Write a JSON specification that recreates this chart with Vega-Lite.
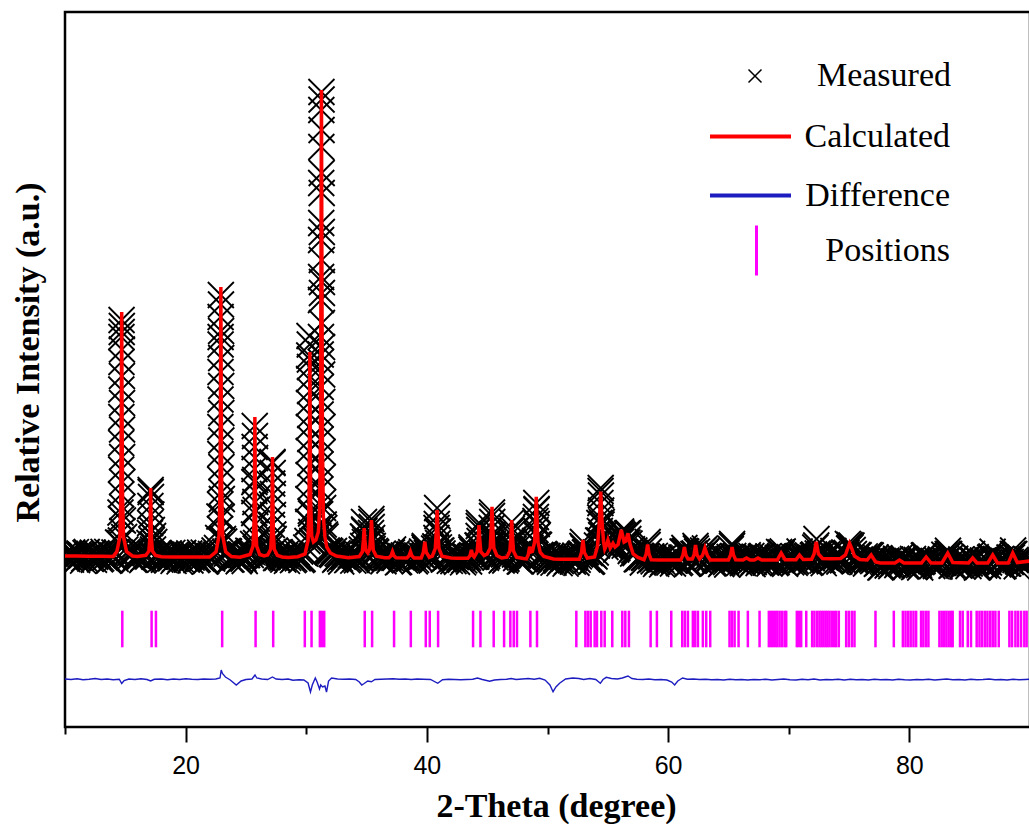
{
"$schema": "https://vega.github.io/schema/vega-lite/v6.json",
"width": 965, "height": 715,
"autosize": {"type": "none"},
"padding": {"left": 65, "top": 12, "right": 0, "bottom": 97},
"background": "white",
"config": {"view": {"stroke": "black", "strokeWidth": 2.5}},
"datasets": {
"obs": [
{"x":10.0,"y":60},{"x":10.2,"y":-40},{"x":10.4,"y":40},{"x":10.6,"y":90},{"x":10.8,"y":-10},{"x":11.0,"y":-60},{"x":11.2,"y":70},{"x":11.4,"y":30},{"x":11.6,"y":-30},{"x":11.8,"y":100},
{"x":12.0,"y":0},{"x":12.2,"y":50},{"x":12.4,"y":-55},{"x":12.6,"y":75},{"x":12.8,"y":14},{"x":13.0,"y":-26},{"x":13.2,"y":104},{"x":13.4,"y":3},{"x":13.6,"y":-77},{"x":13.8,"y":52},
{"x":14.0,"y":32},{"x":14.2,"y":-38},{"x":14.4,"y":290},{"x":14.6,"y":890},{"x":14.8,"y":730},{"x":15.0,"y":150},{"x":15.2,"y":110},{"x":15.4,"y":10},{"x":15.6,"y":100},{"x":15.8,"y":-50},
{"x":16.0,"y":38},{"x":16.2,"y":2},{"x":16.4,"y":-60},{"x":16.6,"y":88},{"x":16.8,"y":20},{"x":17.0,"y":280},{"x":17.2,"y":340},{"x":17.4,"y":10},{"x":17.6,"y":30},{"x":17.8,"y":50},
{"x":18.0,"y":45},{"x":18.2,"y":-55},{"x":18.4,"y":24},{"x":18.6,"y":74},{"x":18.8,"y":-27},{"x":19.0,"y":-78},{"x":19.2,"y":52},{"x":19.4,"y":11},{"x":19.6,"y":-49},{"x":19.8,"y":80},
{"x":20.0,"y":-20},{"x":20.2,"y":30},{"x":20.4,"y":-70},{"x":20.6,"y":59},{"x":20.8,"y":-1},{"x":21.0,"y":-41},{"x":21.2,"y":89},{"x":21.4,"y":-11},{"x":21.6,"y":-92},{"x":21.8,"y":38},
{"x":22.0,"y":18},{"x":22.2,"y":-30},{"x":22.4,"y":130},{"x":22.6,"y":180},{"x":22.8,"y":810},{"x":23.0,"y":1160},{"x":23.2,"y":310},{"x":23.4,"y":65},{"x":23.6,"y":110},{"x":23.8,"y":-50},
{"x":24.0,"y":30},{"x":24.2,"y":-14},{"x":24.4,"y":-85},{"x":24.6,"y":55},{"x":24.8,"y":-35},{"x":25.0,"y":40},{"x":25.2,"y":125},{"x":25.4,"y":40},{"x":25.6,"y":260},{"x":25.8,"y":940},
{"x":26.0,"y":170},{"x":26.2,"y":-15},{"x":26.4,"y":45},{"x":26.6,"y":95},{"x":26.8,"y":10},{"x":27.0,"y":50},{"x":27.2,"y":1900},{"x":27.4,"y":130},{"x":27.6,"y":-17},{"x":27.8,"y":95},
{"x":28.0,"y":-20},{"x":28.2,"y":25},{"x":28.4,"y":-78},{"x":28.6,"y":54},{"x":28.8,"y":-3},{"x":29.0,"y":-40},{"x":29.2,"y":93},{"x":29.4,"y":2},{"x":29.6,"y":-60},{"x":29.8,"y":90},
{"x":30.0,"y":190},{"x":30.2,"y":700},{"x":30.4,"y":870},{"x":30.6,"y":270},{"x":30.8,"y":350},{"x":31.0,"y":430},{"x":31.2,"y":4050},{"x":31.4,"y":980},{"x":31.6,"y":410},{"x":31.8,"y":100},
{"x":32.0,"y":110},{"x":32.2,"y":45},{"x":32.4,"y":-55},{"x":32.6,"y":75},{"x":32.8,"y":-35},{"x":33.0,"y":15},{"x":33.2,"y":80},{"x":33.4,"y":-62},{"x":33.6,"y":-12},{"x":33.8,"y":28},
{"x":34.0,"y":30},{"x":34.2,"y":-65},{"x":34.4,"y":29},{"x":34.6,"y":150},{"x":34.8,"y":550},{"x":35.0,"y":30},{"x":35.2,"y":170},{"x":35.4,"y":700},{"x":35.6,"y":60},{"x":35.8,"y":95},
{"x":36.0,"y":-25},{"x":36.2,"y":18},{"x":36.4,"y":-85},{"x":36.6,"y":44},{"x":36.8,"y":-17},{"x":37.0,"y":-20},{"x":37.2,"y":150},{"x":37.4,"y":-15},{"x":37.6,"y":-107},{"x":37.8,"y":23},
{"x":38.0,"y":2},{"x":38.2,"y":-68},{"x":38.4,"y":65},{"x":38.6,"y":50},{"x":38.8,"y":20},{"x":39.0,"y":-88},{"x":39.2,"y":32},{"x":39.4,"y":-39},{"x":39.6,"y":110},{"x":39.8,"y":190},
{"x":40.0,"y":80},{"x":40.2,"y":-15},{"x":40.4,"y":-70},{"x":40.6,"y":170},{"x":40.8,"y":580},{"x":41.0,"y":191},{"x":41.2,"y":130},{"x":41.4,"y":-50},{"x":41.6,"y":-15},{"x":41.8,"y":21},
{"x":42.0,"y":20},{"x":42.2,"y":-82},{"x":42.4,"y":-4},{"x":42.6,"y":45},{"x":42.8,"y":-56},{"x":43.0,"y":-106},{"x":43.2,"y":23},{"x":43.4,"y":-17},{"x":43.6,"y":0},{"x":43.8,"y":110},
{"x":44.0,"y":10},{"x":44.2,"y":230},{"x":44.4,"y":180},{"x":44.6,"y":130},{"x":44.8,"y":35},{"x":45.0,"y":20},{"x":45.2,"y":240},{"x":45.4,"y":890},{"x":45.6,"y":60},{"x":45.8,"y":70},
{"x":46.0,"y":10},{"x":46.2,"y":-70},{"x":46.4,"y":50},{"x":46.6,"y":-35},{"x":46.8,"y":90},{"x":47.0,"y":520},{"x":47.2,"y":160},{"x":47.4,"y":-20},{"x":47.6,"y":60},{"x":47.8,"y":-88},
{"x":48.0,"y":0},{"x":48.2,"y":-46},{"x":48.4,"y":-40},{"x":48.6,"y":180},{"x":48.8,"y":120},{"x":49.0,"y":720},{"x":49.2,"y":440},{"x":49.4,"y":40},{"x":49.6,"y":30},{"x":49.8,"y":40},
{"x":50.0,"y":20},{"x":50.2,"y":-95},{"x":50.4,"y":-21},{"x":50.6,"y":29},{"x":50.8,"y":-72},{"x":51.0,"y":-123},{"x":51.2,"y":7},{"x":51.4,"y":-33},{"x":51.6,"y":-94},{"x":51.8,"y":36},
{"x":52.0,"y":-64},{"x":52.2,"y":-15},{"x":52.4,"y":-115},{"x":52.6,"y":14},{"x":52.8,"y":70},{"x":53.0,"y":175},{"x":53.2,"y":100},{"x":53.4,"y":-25},{"x":53.6,"y":-98},{"x":53.8,"y":38},
{"x":54.0,"y":90},{"x":54.2,"y":330},{"x":54.4,"y":1320},{"x":54.6,"y":420},{"x":54.8,"y":200},{"x":55.0,"y":260},{"x":55.2,"y":230},{"x":55.4,"y":240},{"x":55.6,"y":280},{"x":55.8,"y":180},
{"x":56.0,"y":440},{"x":56.2,"y":450},{"x":56.4,"y":227},{"x":56.6,"y":470},{"x":56.8,"y":270},{"x":57.0,"y":155},{"x":57.2,"y":130},{"x":57.4,"y":-45},{"x":57.6,"y":-20},{"x":57.8,"y":0},
{"x":58.0,"y":-15},{"x":58.2,"y":20},{"x":58.4,"y":110},{"x":58.6,"y":14},{"x":58.8,"y":-87},{"x":59.0,"y":-137},{"x":59.2,"y":-8},{"x":59.4,"y":-48},{"x":59.6,"y":-109},{"x":59.8,"y":21},
{"x":60.0,"y":-80},{"x":60.2,"y":-30},{"x":60.4,"y":-130},{"x":60.6,"y":0},{"x":60.8,"y":-61},{"x":61.0,"y":-101},{"x":61.2,"y":110},{"x":61.4,"y":120},{"x":61.6,"y":-135},{"x":61.8,"y":0},
{"x":62.0,"y":-20},{"x":62.2,"y":70},{"x":62.4,"y":110},{"x":62.6,"y":-70},{"x":62.8,"y":20},{"x":63.0,"y":70},{"x":63.2,"y":120},{"x":63.4,"y":-50},{"x":63.6,"y":20},{"x":63.8,"y":-120},
{"x":64.0,"y":-30},{"x":64.2,"y":-70},{"x":64.4,"y":-140},{"x":64.6,"y":0},{"x":64.8,"y":-100},{"x":65.0,"y":-40},{"x":65.2,"y":160},{"x":65.4,"y":20},{"x":65.6,"y":-55},{"x":65.8,"y":-18},
{"x":66.0,"y":-20},{"x":66.2,"y":-120},{"x":66.4,"y":-15},{"x":66.6,"y":35},{"x":66.8,"y":-90},{"x":67.0,"y":-140},{"x":67.2,"y":0},{"x":67.4,"y":-15},{"x":67.6,"y":-90},{"x":67.8,"y":20},
{"x":68.0,"y":-80},{"x":68.2,"y":-30},{"x":68.4,"y":-130},{"x":68.6,"y":0},{"x":68.8,"y":-60},{"x":69.0,"y":-100},{"x":69.2,"y":100},{"x":69.4,"y":60},{"x":69.6,"y":-110},{"x":69.8,"y":-15},
{"x":70.0,"y":-35},{"x":70.2,"y":-105},{"x":70.4,"y":15},{"x":70.6,"y":-85},{"x":70.8,"y":20},{"x":71.0,"y":-60},{"x":71.2,"y":0},{"x":71.4,"y":-68},{"x":71.6,"y":33},{"x":71.8,"y":-106},
{"x":72.0,"y":30},{"x":72.2,"y":190},{"x":72.4,"y":70},{"x":72.6,"y":70},{"x":72.8,"y":-70},{"x":73.0,"y":-12},{"x":73.2,"y":57},{"x":73.4,"y":-85},{"x":73.6,"y":-34},{"x":73.8,"y":7},
{"x":74.0,"y":8},{"x":74.2,"y":-90},{"x":74.4,"y":10},{"x":74.6,"y":90},{"x":74.8,"y":80},{"x":75.0,"y":170},{"x":75.2,"y":230},{"x":75.4,"y":60},{"x":75.6,"y":-60},{"x":75.8,"y":35},
{"x":76.0,"y":-72},{"x":76.2,"y":-26},{"x":76.4,"y":-130},{"x":76.6,"y":30},{"x":76.8,"y":30},{"x":77.0,"y":-80},{"x":77.2,"y":-10},{"x":77.4,"y":-120},{"x":77.6,"y":-210},{"x":77.8,"y":-80},
{"x":78.0,"y":-100},{"x":78.2,"y":-170},{"x":78.4,"y":-50},{"x":78.6,"y":-150},{"x":78.8,"y":-110},{"x":79.0,"y":-160},{"x":79.2,"y":-10},{"x":79.4,"y":-115},{"x":79.6,"y":-40},{"x":79.8,"y":-180},
{"x":80.0,"y":-90},{"x":80.2,"y":-130},{"x":80.4,"y":-200},{"x":80.6,"y":-60},{"x":80.8,"y":-160},{"x":81.0,"y":-100},{"x":81.2,"y":30},{"x":81.4,"y":-50},{"x":81.6,"y":-60},{"x":81.8,"y":-80},
{"x":82.0,"y":-80},{"x":82.2,"y":-180},{"x":82.4,"y":-100},{"x":82.6,"y":-50},{"x":82.8,"y":-110},{"x":83.0,"y":-80},{"x":83.2,"y":125},{"x":83.4,"y":-10},{"x":83.6,"y":-160},{"x":83.8,"y":-35},
{"x":84.0,"y":-138},{"x":84.2,"y":-90},{"x":84.4,"y":-190},{"x":84.6,"y":-60},{"x":84.8,"y":-120},{"x":85.0,"y":-130},{"x":85.2,"y":60},{"x":85.4,"y":-85},{"x":85.6,"y":-210},{"x":85.8,"y":-80},
{"x":86.0,"y":-100},{"x":86.2,"y":-170},{"x":86.4,"y":-50},{"x":86.6,"y":-110},{"x":86.8,"y":10},{"x":87.0,"y":-70},{"x":87.2,"y":-40},{"x":87.4,"y":-140},{"x":87.6,"y":-40},{"x":87.8,"y":-180},
{"x":88.0,"y":-90},{"x":88.2,"y":-130},{"x":88.4,"y":-100},{"x":88.6,"y":130},{"x":88.8,"y":-60},{"x":89.0,"y":-85},{"x":89.2,"y":-10},{"x":89.4,"y":-148},{"x":89.6,"y":-95},{"x":89.8,"y":-52},{"x":90.0,"y":-40},
{"x":10.1,"y":0},{"x":10.3,"y":69},{"x":10.5,"y":-51},{"x":10.7,"y":29},{"x":10.9,"y":98},{"x":11.1,"y":-22},{"x":11.3,"y":47},{"x":11.5,"y":-73},{"x":11.7,"y":77},{"x":11.9,"y":16},
{"x":12.1,"y":-34},{"x":12.3,"y":85},{"x":12.5,"y":5},{"x":12.7,"y":55},{"x":12.9,"y":-46},{"x":13.1,"y":34},{"x":13.3,"y":-17},{"x":13.5,"y":103},{"x":13.7,"y":-67},{"x":13.9,"y":22},
{"x":14.1,"y":90},{"x":14.3,"y":88},{"x":14.5,"y":280},{"x":14.7,"y":4500},{"x":14.9,"y":400},{"x":15.1,"y":68},{"x":15.3,"y":60},{"x":15.5,"y":90},{"x":15.7,"y":-55},{"x":15.9,"y":30},
{"x":16.1,"y":2},{"x":16.3,"y":96},{"x":16.5,"y":-25},{"x":16.7,"y":73},{"x":16.9,"y":10},{"x":17.1,"y":1300},{"x":17.3,"y":150},{"x":17.5,"y":3},{"x":17.7,"y":70},{"x":17.9,"y":-52},
{"x":18.1,"y":-15},{"x":18.3,"y":54},{"x":18.5,"y":-66},{"x":18.7,"y":13},{"x":18.9,"y":83},{"x":19.1,"y":-38},{"x":19.3,"y":31},{"x":19.5,"y":-89},{"x":19.7,"y":61},{"x":19.9,"y":0},
{"x":20.1,"y":-50},{"x":20.3,"y":70},{"x":20.5,"y":-11},{"x":20.7,"y":39},{"x":20.9,"y":-61},{"x":21.1,"y":19},{"x":21.3,"y":-31},{"x":21.5,"y":88},{"x":21.7,"y":-82},{"x":21.9,"y":8},
{"x":22.1,"y":60},{"x":22.3,"y":20},{"x":22.5,"y":40},{"x":22.7,"y":380},{"x":22.9,"y":4400},{"x":23.1,"y":360},{"x":23.3,"y":110},{"x":23.5,"y":120},{"x":23.7,"y":-50},{"x":23.9,"y":28},
{"x":24.1,"y":-5},{"x":24.3,"y":80},{"x":24.5,"y":-55},{"x":24.7,"y":40},{"x":24.9,"y":-80},{"x":25.1,"y":40},{"x":25.3,"y":105},{"x":25.5,"y":100},{"x":25.7,"y":1500},{"x":25.9,"y":140},
{"x":26.1,"y":40},{"x":26.3,"y":80},{"x":26.5,"y":-50},{"x":26.7,"y":40},{"x":26.9,"y":160},{"x":27.1,"y":290},{"x":27.3,"y":360},{"x":27.5,"y":-20},{"x":27.7,"y":85},{"x":27.9,"y":5},
{"x":28.1,"y":-52},{"x":28.3,"y":64},{"x":28.5,"y":-18},{"x":28.7,"y":35},{"x":28.9,"y":-62},{"x":29.1,"y":22},{"x":29.3,"y":-25},{"x":29.5,"y":110},{"x":29.7,"y":-40},{"x":29.9,"y":70},
{"x":30.1,"y":320},{"x":30.3,"y":3950},{"x":30.5,"y":320},{"x":30.7,"y":350},{"x":30.9,"y":490},{"x":31.1,"y":860},{"x":31.3,"y":5500},{"x":31.5,"y":580},{"x":31.7,"y":130},{"x":31.9,"y":130},
{"x":32.1,"y":60},{"x":32.3,"y":120},{"x":32.5,"y":-30},{"x":32.7,"y":50},{"x":32.9,"y":-90},{"x":33.1,"y":5},{"x":33.3,"y":50},{"x":33.5,"y":-43},{"x":33.7,"y":38},{"x":33.9,"y":-71},
{"x":34.1,"y":-28},{"x":34.3,"y":48},{"x":34.5,"y":-25},{"x":34.7,"y":410},{"x":34.9,"y":350},{"x":35.1,"y":40},{"x":35.3,"y":320},{"x":35.5,"y":160},{"x":35.7,"y":120},{"x":35.9,"y":10},
{"x":36.1,"y":-58},{"x":36.3,"y":57},{"x":36.5,"y":-26},{"x":36.7,"y":23},{"x":36.9,"y":-70},{"x":37.1,"y":90},{"x":37.3,"y":-15},{"x":37.5,"y":73},{"x":37.7,"y":-97},{"x":37.9,"y":-8},
{"x":38.1,"y":32},{"x":38.3,"y":-38},{"x":38.5,"y":-40},{"x":38.7,"y":95},{"x":38.9,"y":60},{"x":39.1,"y":-58},{"x":39.3,"y":-19},{"x":39.5,"y":41},{"x":39.7,"y":15},{"x":39.9,"y":170},
{"x":40.1,"y":20},{"x":40.3,"y":80},{"x":40.5,"y":0},{"x":40.7,"y":211},{"x":40.9,"y":510},{"x":41.1,"y":120},{"x":41.3,"y":70},{"x":41.5,"y":-35},{"x":41.7,"y":35},{"x":41.9,"y":-79},
{"x":42.1,"y":-41},{"x":42.3,"y":27},{"x":42.5,"y":-95},{"x":42.7,"y":-15},{"x":42.9,"y":54},{"x":43.1,"y":-66},{"x":43.3,"y":3},{"x":43.5,"y":-90},{"x":43.7,"y":190},{"x":43.9,"y":5},
{"x":44.1,"y":10},{"x":44.3,"y":620},{"x":44.5,"y":80},{"x":44.7,"y":75},{"x":44.9,"y":-15},{"x":45.1,"y":120},{"x":45.3,"y":420},{"x":45.5,"y":410},{"x":45.7,"y":-10},{"x":45.9,"y":25},
{"x":46.1,"y":35},{"x":46.3,"y":-40},{"x":46.5,"y":-70},{"x":46.7,"y":40},{"x":46.9,"y":220},{"x":47.1,"y":310},{"x":47.3,"y":50},{"x":47.5,"y":55},{"x":47.7,"y":-90},{"x":47.9,"y":-8},
{"x":48.1,"y":-43},{"x":48.3,"y":70},{"x":48.5,"y":130},{"x":48.7,"y":145},{"x":48.9,"y":160},{"x":49.1,"y":960},{"x":49.3,"y":240},{"x":49.5,"y":30},{"x":49.7,"y":60},{"x":49.9,"y":-65},
{"x":50.1,"y":-40},{"x":50.3,"y":15},{"x":50.5,"y":-111},{"x":50.7,"y":-31},{"x":50.9,"y":38},{"x":51.1,"y":-83},{"x":51.3,"y":-13},{"x":51.5,"y":-133},{"x":51.7,"y":16},{"x":51.9,"y":-44},
{"x":52.1,"y":-94},{"x":52.3,"y":25},{"x":52.5,"y":-55},{"x":52.7,"y":50},{"x":52.9,"y":220},{"x":53.1,"y":90},{"x":53.3,"y":-50},{"x":53.5,"y":78},{"x":53.7,"y":-85},{"x":53.9,"y":10},
{"x":54.1,"y":230},{"x":54.3,"y":680},{"x":54.5,"y":700},{"x":54.7,"y":250},{"x":54.9,"y":310},{"x":55.1,"y":220},{"x":55.3,"y":220},{"x":55.5,"y":300},{"x":55.7,"y":150},{"x":55.9,"y":320},
{"x":56.1,"y":510},{"x":56.3,"y":430},{"x":56.5,"y":270},{"x":56.7,"y":480},{"x":56.9,"y":120},{"x":57.1,"y":70},{"x":57.3,"y":80},{"x":57.5,"y":-40},{"x":57.7,"y":20},{"x":57.9,"y":-110},
{"x":58.1,"y":-10},{"x":58.3,"y":300},{"x":58.5,"y":-70},{"x":58.7,"y":-46},{"x":58.9,"y":23},{"x":59.1,"y":-97},{"x":59.3,"y":-28},{"x":59.5,"y":-148},{"x":59.7,"y":1},{"x":59.9,"y":-60},
{"x":60.1,"y":-110},{"x":60.3,"y":10},{"x":60.5,"y":-70},{"x":60.7,"y":-20},{"x":60.9,"y":-121},{"x":61.1,"y":-10},{"x":61.3,"y":100},{"x":61.5,"y":110},{"x":61.7,"y":-120},{"x":61.9,"y":-30},
{"x":62.1,"y":60},{"x":62.3,"y":170},{"x":62.5,"y":-60},{"x":62.7,"y":20},{"x":62.9,"y":130},{"x":63.1,"y":100},{"x":63.3,"y":10},{"x":63.5,"y":0},{"x":63.7,"y":-130},{"x":63.9,"y":-40},
{"x":64.1,"y":-70},{"x":64.3,"y":20},{"x":64.5,"y":-110},{"x":64.7,"y":-20},{"x":64.9,"y":-150},{"x":65.1,"y":0},{"x":65.3,"y":260},{"x":65.5,"y":-40},{"x":65.7,"y":-7},{"x":65.9,"y":-118},
{"x":66.1,"y":-80},{"x":66.3,"y":5},{"x":66.5,"y":-90},{"x":66.7,"y":-35},{"x":66.9,"y":20},{"x":67.1,"y":-100},{"x":67.3,"y":-10},{"x":67.5,"y":-120},{"x":67.7,"y":5},{"x":67.9,"y":-60},
{"x":68.1,"y":-110},{"x":68.3,"y":10},{"x":68.5,"y":-70},{"x":68.7,"y":-20},{"x":68.9,"y":-120},{"x":69.1,"y":-20},{"x":69.3,"y":20},{"x":69.5,"y":110},{"x":69.7,"y":-135},{"x":69.9,"y":-45},
{"x":70.1,"y":-5},{"x":70.3,"y":-75},{"x":70.5,"y":-115},{"x":70.7,"y":10},{"x":70.9,"y":110},{"x":71.1,"y":-60},{"x":71.3,"y":-50},{"x":71.5,"y":12},{"x":71.7,"y":-116},{"x":71.9,"y":-25},
{"x":72.1,"y":50},{"x":72.3,"y":360},{"x":72.5,"y":-10},{"x":72.7,"y":25},{"x":72.9,"y":-121},{"x":73.1,"y":-22},{"x":73.3,"y":26},{"x":73.5,"y":-65},{"x":73.7,"y":16},{"x":73.9,"y":-92},
{"x":74.1,"y":-51},{"x":74.3,"y":20},{"x":74.5,"y":-65},{"x":74.7,"y":50},{"x":74.9,"y":260},{"x":75.1,"y":200},{"x":75.3,"y":140},{"x":75.5,"y":-80},{"x":75.7,"y":40},{"x":75.9,"y":-50},
{"x":76.1,"y":-103},{"x":76.3,"y":13},{"x":76.5,"y":-70},{"x":76.7,"y":40},{"x":76.9,"y":-50},{"x":77.1,"y":-60},{"x":77.3,"y":-135},{"x":77.5,"y":-25},{"x":77.7,"y":-200},{"x":77.9,"y":-110},
{"x":78.1,"y":-70},{"x":78.3,"y":-140},{"x":78.5,"y":-180},{"x":78.7,"y":-90},{"x":78.9,"y":-35},{"x":79.1,"y":-115},{"x":79.3,"y":-80},{"x":79.5,"y":-50},{"x":79.7,"y":-190},{"x":79.9,"y":-100},
{"x":80.1,"y":-130},{"x":80.3,"y":-40},{"x":80.5,"y":-170},{"x":80.7,"y":-80},{"x":80.9,"y":-210},{"x":81.1,"y":-80},{"x":81.3,"y":35},{"x":81.5,"y":-60},{"x":81.7,"y":-45},{"x":81.9,"y":-180},
{"x":82.1,"y":-140},{"x":82.3,"y":-70},{"x":82.5,"y":-190},{"x":82.7,"y":-110},{"x":82.9,"y":45},{"x":83.1,"y":10},{"x":83.3,"y":60},{"x":83.5,"y":-175},{"x":83.7,"y":-52},{"x":83.9,"y":-115},
{"x":84.1,"y":-168},{"x":84.3,"y":-50},{"x":84.5,"y":-130},{"x":84.7,"y":-80},{"x":84.9,"y":-180},{"x":85.1,"y":-45},{"x":85.3,"y":-65},{"x":85.5,"y":-5},{"x":85.7,"y":-200},{"x":85.9,"y":-110},
{"x":86.1,"y":-70},{"x":86.3,"y":-140},{"x":86.5,"y":-180},{"x":86.7,"y":-10},{"x":86.9,"y":105},{"x":87.1,"y":-80},{"x":87.3,"y":-120},{"x":87.5,"y":-60},{"x":87.7,"y":-190},{"x":87.9,"y":-100},
{"x":88.1,"y":-130},{"x":88.3,"y":-10},{"x":88.5,"y":-10},{"x":88.7,"y":60},{"x":88.9,"y":-185},{"x":89.1,"y":-95},{"x":89.3,"y":-40},{"x":89.5,"y":-127},{"x":89.7,"y":-44},{"x":89.9,"y":-141},
{"x":14.69,"y":4740},{"x":14.71,"y":4620},{"x":14.68,"y":4400},{"x":14.72,"y":4150},{"x":14.68,"y":3900},{"x":14.72,"y":3620},{"x":14.67,"y":3350},{"x":14.73,"y":3080},{"x":14.67,"y":2800},{"x":14.73,"y":2550},{"x":14.66,"y":2280},{"x":14.74,"y":2000},{"x":14.66,"y":1750},{"x":14.74,"y":1500},{"x":14.65,"y":1250},{"x":14.75,"y":1000},{"x":14.64,"y":760},{"x":14.76,"y":520},{"x":14.63,"y":330},
{"x":17.1,"y":1340},{"x":17.13,"y":1200},{"x":17.08,"y":1020},{"x":17.16,"y":850},{"x":17.06,"y":680},{"x":17.2,"y":540},{"x":17.3,"y":420},{"x":17.04,"y":480},{"x":17.4,"y":300},{"x":17.25,"y":250},
{"x":22.92,"y":5240},{"x":22.93,"y":5050},{"x":22.9,"y":4800},{"x":22.94,"y":4520},{"x":22.9,"y":4250},{"x":22.95,"y":3980},{"x":22.89,"y":3700},{"x":22.95,"y":3420},{"x":22.89,"y":3150},{"x":22.96,"y":2880},{"x":22.88,"y":2600},{"x":22.96,"y":2330},{"x":22.88,"y":2060},{"x":22.97,"y":1800},{"x":22.87,"y":1550},{"x":22.98,"y":1300},{"x":22.86,"y":1050},{"x":22.99,"y":800},{"x":22.85,"y":560},{"x":23.01,"y":330},
{"x":25.73,"y":2620},{"x":25.75,"y":2420},{"x":25.72,"y":2200},{"x":25.76,"y":1980},{"x":25.71,"y":1760},{"x":25.77,"y":1540},{"x":25.7,"y":1320},{"x":25.78,"y":1100},{"x":25.69,"y":880},{"x":25.8,"y":660},{"x":25.66,"y":450},{"x":25.84,"y":280},
{"x":27.2,"y":1880},{"x":27.22,"y":1680},{"x":27.18,"y":1470},{"x":27.23,"y":1260},{"x":27.17,"y":1050},{"x":27.24,"y":840},{"x":27.15,"y":640},{"x":27.27,"y":450},{"x":27.12,"y":280},
{"x":30.27,"y":4420},{"x":30.29,"y":4250},{"x":30.25,"y":4030},{"x":30.31,"y":3800},{"x":30.24,"y":3560},{"x":30.32,"y":3320},{"x":30.23,"y":3080},{"x":30.33,"y":2840},{"x":30.22,"y":2600},{"x":30.34,"y":2360},{"x":30.21,"y":2120},{"x":30.35,"y":1880},{"x":30.2,"y":1640},{"x":30.36,"y":1400},{"x":30.18,"y":1160},{"x":30.38,"y":920},{"x":30.15,"y":700},{"x":30.42,"y":500},
{"x":31.26,"y":9300},{"x":31.27,"y":9150},{"x":31.25,"y":8940},{"x":31.27,"y":8540},{"x":31.25,"y":8200},{"x":31.28,"y":7680},{"x":31.24,"y":7480},{"x":31.28,"y":7280},{"x":31.24,"y":6680},{"x":31.29,"y":6500},{"x":31.23,"y":6340},{"x":31.29,"y":5940},{"x":31.23,"y":5600},{"x":31.3,"y":5280},{"x":31.22,"y":5140},{"x":31.3,"y":4680},{"x":31.22,"y":4400},{"x":31.31,"y":4200},{"x":31.21,"y":3900},{"x":31.32,"y":3650},{"x":31.2,"y":3400},{"x":31.33,"y":3100},{"x":31.19,"y":2850},{"x":31.34,"y":2600},{"x":31.18,"y":2350},{"x":31.35,"y":2100},{"x":31.17,"y":1850},{"x":31.37,"y":1600},{"x":31.15,"y":1350},{"x":31.4,"y":1100},{"x":31.12,"y":850},{"x":31.45,"y":650},{"x":31.05,"y":600},{"x":31.55,"y":450},
{"x":34.79,"y":700},{"x":34.82,"y":520},{"x":34.76,"y":400},{"x":34.86,"y":300},{"x":34.72,"y":220},
{"x":35.4,"y":760},{"x":35.43,"y":600},{"x":35.37,"y":480},{"x":35.46,"y":380},{"x":35.33,"y":300},{"x":35.52,"y":220},
{"x":39.83,"y":220},{"x":39.86,"y":150},
{"x":40.85,"y":980},{"x":40.87,"y":820},{"x":40.82,"y":660},{"x":40.89,"y":500},{"x":40.79,"y":380},{"x":40.93,"y":280},{"x":40.74,"y":200},
{"x":43.69,"y":150},
{"x":44.32,"y":680},{"x":44.34,"y":540},{"x":44.29,"y":420},{"x":44.37,"y":320},{"x":44.25,"y":230},
{"x":45.4,"y":820},{"x":45.42,"y":700},{"x":45.37,"y":580},{"x":45.44,"y":460},{"x":45.34,"y":360},{"x":45.48,"y":270},{"x":45.3,"y":200},
{"x":47.03,"y":700},{"x":47.05,"y":570},{"x":47.0,"y":450},{"x":47.08,"y":340},{"x":46.96,"y":250},
{"x":48.52,"y":200},
{"x":49.07,"y":1080},{"x":49.09,"y":940},{"x":49.04,"y":800},{"x":49.11,"y":660},{"x":49.01,"y":540},{"x":49.15,"y":420},{"x":48.97,"y":320},{"x":49.2,"y":250},
{"x":52.94,"y":300},{"x":52.97,"y":200},
{"x":54.41,"y":1380},{"x":54.43,"y":1230},{"x":54.39,"y":1080},{"x":54.45,"y":930},{"x":54.37,"y":790},{"x":54.48,"y":650},{"x":54.34,"y":520},{"x":54.52,"y":420},{"x":54.3,"y":330},{"x":54.58,"y":260},
{"x":55.01,"y":330},{"x":55.43,"y":280},
{"x":56.12,"y":480},{"x":56.16,"y":380},{"x":56.08,"y":300},
{"x":56.67,"y":470},{"x":56.7,"y":360},{"x":56.63,"y":290},
{"x":58.3,"y":240},{"x":61.35,"y":180},{"x":62.27,"y":220},{"x":63.05,"y":170},{"x":65.3,"y":220},{"x":69.37,"y":90},{"x":72.28,"y":230},{"x":73.7,"y":120},{"x":75.04,"y":240},{"x":75.1,"y":190},{"x":83.18,"y":60},{"x":88.57,"y":60}
],
"calc": [
{"x":10.0,"y":20},{"x":11.0,"y":18},{"x":12.0,"y":16},{"x":13.0,"y":14},{"x":14.0,"y":12},{"x":14.3,"y":108},{"x":14.55,"y":401},{"x":14.63,"y":1232},{"x":14.67,"y":2944},{"x":14.7,"y":4900},{"x":14.73,"y":2944},{"x":14.77,"y":1232},{"x":14.85,"y":401},{"x":15.1,"y":108},{"x":15.6,"y":20},
{"x":16.0,"y":8},{"x":16.7,"y":33},{"x":16.95,"y":116},{"x":17.03,"y":350},{"x":17.07,"y":830},{"x":17.1,"y":1380},{"x":17.13,"y":830},{"x":17.17,"y":350},{"x":17.25,"y":116},{"x":17.5,"y":33},{"x":18.0,"y":5},{"x":19.0,"y":2},{"x":20.0,"y":0},{"x":21.0,"y":-1},{"x":22.0,"y":-2},
{"x":22.52,"y":105},{"x":22.77,"y":430},{"x":22.85,"y":1348},{"x":22.89,"y":3239},{"x":22.92,"y":5400},{"x":22.95,"y":3239},{"x":22.99,"y":1348},{"x":23.07,"y":430},{"x":23.32,"y":105},{"x":23.8,"y":10},{"x":24.5,"y":-5},
{"x":25.34,"y":50},{"x":25.59,"y":218},{"x":25.67,"y":696},{"x":25.71,"y":1678},{"x":25.74,"y":2800},{"x":25.77,"y":1678},{"x":25.81,"y":696},{"x":25.89,"y":218},{"x":26.14,"y":50},{"x":26.5,"y":20},
{"x":26.8,"y":40},{"x":27.05,"y":154},{"x":27.13,"y":495},{"x":27.17,"y":1197},{"x":27.2,"y":2000},{"x":27.23,"y":1197},{"x":27.27,"y":495},{"x":27.35,"y":154},{"x":27.6,"y":33},{"x":28.0,"y":0},{"x":28.5,"y":-8},{"x":29.3,"y":5},
{"x":29.9,"y":60},{"x":30.15,"y":330},{"x":30.23,"y":1030},{"x":30.27,"y":2460},{"x":30.3,"y":4100},{"x":30.33,"y":2500},{"x":30.37,"y":1080},{"x":30.45,"y":420},{"x":30.6,"y":300},{"x":30.8,"y":340},{"x":31.0,"y":500},{"x":31.1,"y":900},
{"x":31.18,"y":2400},{"x":31.22,"y":5600},{"x":31.26,"y":9340},{"x":31.3,"y":5600},{"x":31.34,"y":2300},{"x":31.42,"y":800},{"x":31.55,"y":400},{"x":31.7,"y":200},{"x":32.0,"y":80},{"x":32.5,"y":20},{"x":33.5,"y":-13},
{"x":34.4,"y":9},{"x":34.65,"y":104},{"x":34.74,"y":342},{"x":34.8,"y":580},{"x":34.86,"y":342},{"x":34.95,"y":127},{"x":35.1,"y":80},{"x":35.26,"y":156},{"x":35.35,"y":440},{"x":35.41,"y":740},{"x":35.47,"y":440},{"x":35.56,"y":136},{"x":35.81,"y":15},
{"x":36.5,"y":-16},{"x":36.85,"y":-17},{"x":37.03,"y":26},{"x":37.15,"y":106},{"x":37.27,"y":26},{"x":37.45,"y":-17},{"x":38.34,"y":-18},{"x":38.52,"y":25},{"x":38.64,"y":106},{"x":38.76,"y":25},{"x":38.94,"y":-18},
{"x":39.53,"y":-19},{"x":39.71,"y":95},{"x":39.83,"y":306},{"x":39.95,"y":95},{"x":40.2,"y":-5},{"x":40.45,"y":17},{"x":40.7,"y":171},{"x":40.79,"y":556},{"x":40.85,"y":940},{"x":40.91,"y":556},{"x":41.0,"y":171},{"x":41.25,"y":17},
{"x":42.0,"y":-20},{"x":42.5,"y":-25},{"x":43.4,"y":-27},{"x":43.58,"y":30},{"x":43.69,"y":140},{"x":43.8,"y":30},{"x":43.92,"y":0},{"x":44.17,"y":105},{"x":44.26,"y":372},{"x":44.32,"y":640},{"x":44.38,"y":372},{"x":44.47,"y":105},
{"x":44.75,"y":30},{"x":45.0,"y":60},{"x":45.25,"y":180},{"x":45.34,"y":592},{"x":45.4,"y":1006},{"x":45.46,"y":592},{"x":45.55,"y":180},{"x":45.8,"y":30},{"x":46.2,"y":-20},
{"x":46.63,"y":-3},{"x":46.88,"y":121},{"x":46.97,"y":430},{"x":47.03,"y":740},{"x":47.09,"y":430},{"x":47.18,"y":121},{"x":47.43,"y":-3},{"x":48.0,"y":-30},{"x":48.25,"y":-37},{"x":48.4,"y":40},{"x":48.52,"y":206},{"x":48.62,"y":100},
{"x":48.75,"y":110},{"x":48.93,"y":300},{"x":49.0,"y":700},{"x":49.07,"y":1206},{"x":49.14,"y":700},{"x":49.21,"y":300},{"x":49.4,"y":90},{"x":49.7,"y":10},{"x":50.5,"y":-41},{"x":51.2,"y":-43},{"x":52.0,"y":-44},
{"x":52.64,"y":-46},{"x":52.82,"y":90},{"x":52.94,"y":340},{"x":53.06,"y":90},{"x":53.3,"y":-20},{"x":53.9,"y":0},{"x":54.15,"y":220},{"x":54.3,"y":700},{"x":54.41,"y":1306},{"x":54.52,"y":700},{"x":54.65,"y":300},
{"x":54.75,"y":160},{"x":54.88,"y":230},{"x":55.01,"y":340},{"x":55.2,"y":180},{"x":55.43,"y":274},{"x":55.6,"y":200},{"x":55.85,"y":250},{"x":56.12,"y":540},{"x":56.35,"y":300},{"x":56.5,"y":320},{"x":56.67,"y":474},{"x":56.85,"y":250},{"x":57.1,"y":60},{"x":57.5,"y":-10},
{"x":58.0,"y":-55},{"x":58.18,"y":60},{"x":58.3,"y":250},{"x":58.42,"y":60},{"x":58.6,"y":-56},{"x":59.3,"y":-58},{"x":60.0,"y":-60},{"x":60.6,"y":-60},{"x":61.05,"y":-62},{"x":61.23,"y":40},{"x":61.35,"y":200},{"x":61.47,"y":40},{"x":61.65,"y":-40},
{"x":62.0,"y":-40},{"x":62.15,"y":40},{"x":62.27,"y":240},{"x":62.4,"y":40},{"x":62.6,"y":-40},{"x":62.85,"y":30},{"x":63.05,"y":180},{"x":63.25,"y":30},{"x":63.5,"y":-60},{"x":64.3,"y":-60},
{"x":65.0,"y":-60},{"x":65.18,"y":40},{"x":65.3,"y":200},{"x":65.42,"y":40},{"x":65.6,"y":-55},{"x":66.2,"y":-60},{"x":66.5,"y":-20},{"x":66.8,"y":-60},{"x":67.15,"y":-60},{"x":67.45,"y":-20},{"x":67.75,"y":-60},{"x":68.5,"y":-60},
{"x":69.05,"y":-60},{"x":69.37,"y":80},{"x":69.7,"y":-55},{"x":70.6,"y":-55},{"x":70.89,"y":40},{"x":71.2,"y":-50},{"x":71.9,"y":-45},{"x":72.1,"y":60},{"x":72.28,"y":306},{"x":72.46,"y":60},{"x":72.8,"y":-30},{"x":73.5,"y":-35},
{"x":74.3,"y":-30},{"x":74.7,"y":40},{"x":74.9,"y":180},{"x":75.04,"y":274},{"x":75.2,"y":180},{"x":75.45,"y":20},{"x":75.9,"y":-50},{"x":76.5,"y":-60},{"x":76.83,"y":40},{"x":77.2,"y":-100},{"x":77.6,"y":-120},
{"x":78.8,"y":-120},{"x":79.18,"y":-60},{"x":79.55,"y":-120},{"x":81.0,"y":-120},{"x":81.39,"y":0},{"x":81.8,"y":-120},{"x":82.7,"y":-120},{"x":83.18,"y":80},{"x":83.6,"y":-110},{"x":84.9,"y":-120},{"x":85.25,"y":-20},{"x":85.6,"y":-120},
{"x":86.5,"y":-120},{"x":86.91,"y":40},{"x":87.3,"y":-120},{"x":88.2,"y":-120},{"x":88.57,"y":80},{"x":88.95,"y":-110},{"x":90.0,"y":-80}
],
"diff": [
{"x":10.0,"y":-2440},{"x":10.5,"y":-2450},{"x":11.0,"y":-2435},{"x":11.5,"y":-2455},{"x":12.0,"y":-2445},{"x":12.5,"y":-2430},{"x":13.0,"y":-2450},{"x":13.5,"y":-2440},{"x":14.0,"y":-2455},{"x":14.5,"y":-2445},{"x":14.7,"y":-2530},{"x":14.9,"y":-2470},
{"x":15.3,"y":-2440},{"x":15.8,"y":-2450},{"x":16.3,"y":-2435},{"x":16.8,"y":-2450},{"x":17.1,"y":-2480},{"x":17.4,"y":-2445},{"x":18.0,"y":-2440},{"x":18.5,"y":-2455},{"x":19.0,"y":-2440},{"x":19.5,"y":-2450},{"x":20.0,"y":-2435},{"x":20.5,"y":-2445},
{"x":21.0,"y":-2450},{"x":21.5,"y":-2440},{"x":22.0,"y":-2445},{"x":22.5,"y":-2440},{"x":22.85,"y":-2420},{"x":22.95,"y":-2260},{"x":23.05,"y":-2330},{"x":23.3,"y":-2400},{"x":23.7,"y":-2460},{"x":24.2,"y":-2560},{"x":24.6,"y":-2480},
{"x":25.0,"y":-2450},{"x":25.5,"y":-2440},{"x":25.75,"y":-2360},{"x":25.9,"y":-2420},{"x":26.3,"y":-2440},{"x":26.8,"y":-2450},{"x":27.2,"y":-2400},{"x":27.5,"y":-2440},{"x":28.0,"y":-2450},{"x":28.5,"y":-2440},{"x":28.9,"y":-2465},{"x":29.4,"y":-2455},
{"x":29.8,"y":-2460},{"x":30.15,"y":-2520},{"x":30.35,"y":-2700},{"x":30.5,"y":-2560},{"x":30.75,"y":-2420},{"x":30.9,"y":-2500},{"x":31.1,"y":-2640},{"x":31.2,"y":-2560},{"x":31.35,"y":-2600},{"x":31.55,"y":-2580},{"x":31.68,"y":-2700},{"x":31.85,"y":-2480},
{"x":32.1,"y":-2420},{"x":32.6,"y":-2440},{"x":33.1,"y":-2445},{"x":33.6,"y":-2440},{"x":34.1,"y":-2450},{"x":34.4,"y":-2500},{"x":34.6,"y":-2560},{"x":34.8,"y":-2530},{"x":35.1,"y":-2480},{"x":35.4,"y":-2495},{"x":35.7,"y":-2450},
{"x":36.2,"y":-2445},{"x":36.7,"y":-2440},{"x":37.2,"y":-2435},{"x":37.7,"y":-2445},{"x":38.2,"y":-2440},{"x":38.7,"y":-2450},{"x":39.2,"y":-2440},{"x":39.7,"y":-2445},{"x":40.3,"y":-2450},{"x":40.9,"y":-2525},{"x":41.3,"y":-2455},{"x":41.8,"y":-2445},
{"x":42.3,"y":-2450},{"x":42.8,"y":-2455},{"x":43.3,"y":-2450},{"x":43.8,"y":-2445},{"x":44.2,"y":-2420},{"x":44.6,"y":-2450},{"x":45.2,"y":-2485},{"x":45.6,"y":-2460},{"x":46.1,"y":-2450},{"x":46.6,"y":-2445},{"x":47.0,"y":-2430},{"x":47.4,"y":-2450},
{"x":47.9,"y":-2440},{"x":48.4,"y":-2430},{"x":48.9,"y":-2445},{"x":49.35,"y":-2426},{"x":49.8,"y":-2460},{"x":50.2,"y":-2560},{"x":50.46,"y":-2694},{"x":50.7,"y":-2600},{"x":51.0,"y":-2526},{"x":51.5,"y":-2440},{"x":52.1,"y":-2420},{"x":52.6,"y":-2430},
{"x":53.0,"y":-2450},{"x":53.5,"y":-2430},{"x":54.0,"y":-2450},{"x":54.38,"y":-2526},{"x":54.6,"y":-2450},{"x":54.87,"y":-2406},{"x":55.3,"y":-2430},{"x":55.8,"y":-2440},{"x":56.2,"y":-2420},{"x":56.67,"y":-2380},{"x":57.0,"y":-2430},{"x":57.4,"y":-2446},
{"x":57.9,"y":-2450},{"x":58.4,"y":-2440},{"x":58.9,"y":-2455},{"x":59.4,"y":-2450},{"x":59.9,"y":-2460},{"x":60.3,"y":-2500},{"x":60.54,"y":-2560},{"x":60.8,"y":-2480},{"x":61.2,"y":-2420},{"x":61.6,"y":-2445},{"x":62.1,"y":-2440},{"x":62.6,"y":-2450},
{"x":63.1,"y":-2445},{"x":63.6,"y":-2455},{"x":64.1,"y":-2450},{"x":64.6,"y":-2460},{"x":65.1,"y":-2445},{"x":65.6,"y":-2455},{"x":66.1,"y":-2450},{"x":66.6,"y":-2460},{"x":67.1,"y":-2450},{"x":67.6,"y":-2455},{"x":68.1,"y":-2445},{"x":68.6,"y":-2460},
{"x":69.1,"y":-2450},{"x":69.6,"y":-2440},{"x":70.1,"y":-2455},{"x":70.6,"y":-2460},{"x":71.1,"y":-2445},{"x":71.6,"y":-2455},{"x":72.1,"y":-2440},{"x":72.6,"y":-2460},{"x":73.1,"y":-2450},{"x":73.6,"y":-2455},{"x":74.1,"y":-2445},{"x":74.6,"y":-2460},
{"x":75.1,"y":-2445},{"x":75.6,"y":-2455},{"x":76.1,"y":-2450},{"x":76.6,"y":-2460},{"x":77.1,"y":-2445},{"x":77.6,"y":-2455},{"x":78.1,"y":-2450},{"x":78.6,"y":-2460},{"x":79.1,"y":-2445},{"x":79.6,"y":-2455},{"x":80.1,"y":-2460},{"x":80.6,"y":-2450},
{"x":81.1,"y":-2455},{"x":81.6,"y":-2445},{"x":82.1,"y":-2460},{"x":82.6,"y":-2450},{"x":83.1,"y":-2440},{"x":83.6,"y":-2455},{"x":84.1,"y":-2450},{"x":84.6,"y":-2460},{"x":85.1,"y":-2445},{"x":85.6,"y":-2455},{"x":86.1,"y":-2450},{"x":86.6,"y":-2440},
{"x":87.1,"y":-2455},{"x":87.6,"y":-2450},{"x":88.1,"y":-2460},{"x":88.6,"y":-2445},{"x":89.1,"y":-2455},{"x":89.6,"y":-2450},{"x":90.0,"y":-2445}
],
"pos": [
{"x":14.75},{"x":17.18},{"x":17.54},{"x":23.03},{"x":25.8},{"x":27.26},{"x":29.88},{"x":30.44},{"x":31.13},{"x":31.3},{"x":31.49},{"x":34.85},{"x":35.46},{"x":37.28},{"x":38.67},{"x":39.91},{"x":40.24},{"x":40.93},
{"x":43.83},{"x":44.44},{"x":45.54},{"x":46.4},{"x":46.92},{"x":47.2},{"x":47.47},{"x":48.58},{"x":49.13},{"x":52.39},{"x":53.14},{"x":53.35},{"x":53.58},{"x":53.91},{"x":54.1},{"x":54.46},{"x":54.74},{"x":55.37},
{"x":56.2},{"x":56.45},{"x":56.75},{"x":58.55},{"x":59.07},{"x":60.26},{"x":61.17},{"x":61.39},{"x":61.64},{"x":62.05},{"x":62.24},{"x":62.47},{"x":62.88},{"x":63.16},{"x":63.49},{"x":65.09},{"x":65.29},{"x":65.51},{"x":65.84},
{"x":66.61},{"x":67.58},{"x":68.35},{"x":68.52},{"x":68.69},{"x":68.88},{"x":69.05},{"x":69.24},{"x":69.43},{"x":69.65},{"x":69.79},{"x":70.67},{"x":70.84},{"x":71.03},{"x":71.45},{"x":71.94},{"x":72.13},{"x":72.36},
{"x":72.55},{"x":72.72},{"x":72.88},{"x":73.05},{"x":73.21},{"x":73.38},{"x":73.57},{"x":73.77},{"x":73.93},{"x":74.15},{"x":74.76},{"x":74.98},{"x":75.23},{"x":75.45},{"x":77.19},{"x":78.71},{"x":79.46},{"x":79.68},
{"x":79.9},{"x":80.11},{"x":80.34},{"x":80.56},{"x":80.97},{"x":81.16},{"x":81.38},{"x":81.58},{"x":82.49},{"x":82.68},{"x":82.88},{"x":83.07},{"x":83.26},{"x":83.46},{"x":83.59},{"x":84.2},{"x":84.42},{"x":84.84},
{"x":85.11},{"x":85.58},{"x":85.81},{"x":86.02},{"x":86.25},{"x":86.47},{"x":86.7},{"x":86.91},{"x":87.13},{"x":87.41},{"x":88.29},{"x":88.51},{"x":88.79},{"x":89.01},{"x":89.26},{"x":89.53},{"x":89.72}
]
},
"resolve": {"scale": {"color": "independent"}, "legend": {"color": "independent"}},
"layer": [
{"data": {"name": "obs"},
 "mark": {"type": "point", "shape": "M-1,-1L1,1M-1,1L1,-1", "filled": false, "size": 676, "strokeWidth": 1.8, "opacity": 1, "clip": true},
 "encoding": {
  "x": {"field": "x", "type": "quantitative", "title": "2-Theta (degree)",
   "scale": {"domain": [10, 90], "nice": false, "zero": false},
   "axis": {"values": [10,20,30,40,50,60,70,80,90], "labelExpr": "datum.value % 20 === 0 ? datum.label : ''",
    "tickSize": {"condition": {"test": "datum.value % 20 === 10", "value": 7}, "value": 15},
    "tickWidth": 2, "tickColor": "black", "domain": false, "grid": false,
    "labelFont": "Liberation Sans", "labelFontSize": 25, "labelColor": "black", "labelPadding": 11,
    "titleFont": "Liberation Serif", "titleFontSize": 34, "titleFontWeight": "bold", "titleColor": "black",
    "titleX": 491, "titleY": 89, "titleBaseline": "alphabetic", "titleAlign": "center"}},
  "y": {"field": "y", "type": "quantitative", "title": "Relative Intensity (a.u.)",
   "scale": {"domain": [-3400, 10900], "nice": false, "zero": false},
   "axis": {"labels": false, "ticks": false, "domain": false, "grid": false,
    "titleFont": "Liberation Serif", "titleFontSize": 34, "titleFontWeight": "bold", "titleColor": "black",
    "titleX": -37, "titleY": 340, "titleAngle": -90, "titleBaseline": "middle", "titleAlign": "center"}},
  "color": {"datum": "Measured", "type": "nominal",
   "scale": {"domain": ["Measured"], "range": ["#000000"]},
   "legend": {"orient": "none", "legendX": 673, "legendY": 47, "title": null, "padding": 0,
     "symbolSize": 169, "symbolStrokeWidth": 1.5,
     "labelFont": "Liberation Serif", "labelFontSize": 34, "labelColor": "black",
     "labelAlign": "right", "labelOffset": 179, "labelLimit": 400, "labelBaseline": "middle"}}}},
{"data": {"name": "calc"},
 "mark": {"type": "line", "clip": true},
 "encoding": {"x": {"field": "x", "type": "quantitative"}, "y": {"field": "y", "type": "quantitative"},
  "strokeWidth": {"value": 3.5},
  "color": {"datum": "Calculated", "type": "nominal",
   "scale": {"domain": ["Calculated"], "range": ["#ff0000"]},
   "legend": {"orient": "none", "legendX": 643, "legendY": 82, "title": null, "padding": 0,
     "symbolType": "stroke", "symbolSize": 6561, "symbolStrokeWidth": 4,
     "labelFont": "Liberation Serif", "labelFontSize": 34, "labelColor": "black",
     "labelAlign": "right", "labelOffset": 157, "labelLimit": 400, "labelBaseline": "middle"}}}},
{"data": {"name": "diff"},
 "mark": {"type": "line", "clip": true},
 "encoding": {"x": {"field": "x", "type": "quantitative"}, "y": {"field": "y", "type": "quantitative"},
  "strokeWidth": {"value": 1.4},
  "color": {"datum": "Difference", "type": "nominal",
   "scale": {"domain": ["Difference"], "range": ["#1c1cc0"]},
   "legend": {"orient": "none", "legendX": 643, "legendY": 141, "title": null, "padding": 0,
     "symbolType": "stroke", "symbolSize": 6561, "symbolStrokeWidth": 4,
     "labelFont": "Liberation Serif", "labelFontSize": 34, "labelColor": "black",
     "labelAlign": "right", "labelOffset": 157, "labelLimit": 400, "labelBaseline": "middle"}}}},
{"data": {"name": "pos"},
 "mark": {"type": "rule", "clip": true},
 "encoding": {"x": {"field": "x", "type": "quantitative"},
   "strokeWidth": {"value": 2.5},
   "color": {"datum": "Positions", "type": "nominal",
    "scale": {"domain": ["Positions"], "range": ["#ff00ff"]},
    "legend": {"orient": "none", "legendX": 665, "legendY": 212, "title": null, "padding": 0,
     "symbolType": "M0,-1L0,1", "symbolSize": 2500, "symbolStrokeWidth": 3,
     "labelFont": "Liberation Serif", "labelFontSize": 34, "labelColor": "black",
     "labelAlign": "right", "labelOffset": 167, "labelLimit": 400, "labelBaseline": "middle"}},
   "y": {"datum": -1806, "type": "quantitative"}, "y2": {"datum": -1074}}}
]
}
